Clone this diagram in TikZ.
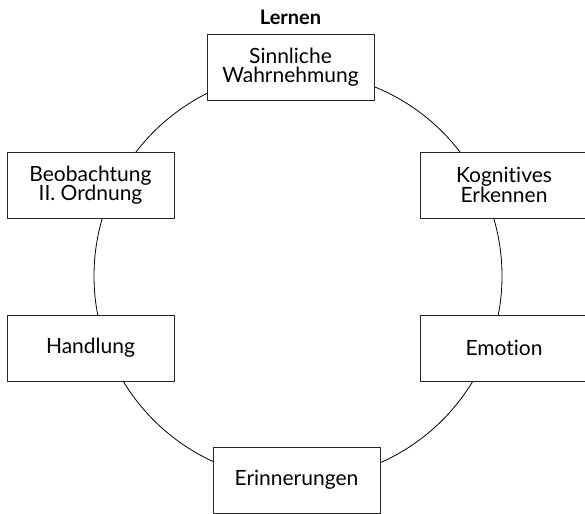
\documentclass[tikz,border=0pt]{standalone}
\usepackage{fontspec}
\setmainfont{Lato}[Ligatures=NoCommon]
\usetikzlibrary{positioning}

\tikzset{
  stufe/.style={draw=black!85, fill=white, line width=0.9pt, align=center,
    minimum width=167pt, minimum height=66pt, inner sep=0pt,
    font=\fontsize{21}{19.5}\selectfont},
  titel/.style={font=\fontsize{20}{20}\selectfont\bfseries}
}

\begin{document}
\begin{tikzpicture}[x=1pt,y=-1pt]
% Rahmen
\useasboundingbox (0,0) rectangle (585,513);

% Kreis (Mittelpunkt und Radius)
\def\mx{298}
\def\my{276}
\def\rad{204}
\draw[line width=0.8pt] (\mx,\my) circle[radius=\rad];

% Stufen des Lernens
\node[stufe] (wahr) at (290.5,67) {Sinnliche\\Wahrnehmung};
\node[titel, above=5pt of wahr] (lernen) {Lernen};
\node[stufe] (kogn) at (504,185) {Kognitives\\Erkennen};
\node[stufe] (emo) at (504,348) {Emotion};
\node[stufe] (erin) at (296.5,480) {Erinnerungen};
\node[stufe] (hand) at (90.5,348) {Handlung};
\node[stufe] (beob) at (90.5,185) {Beobachtung\\II. Ordnung};
\end{tikzpicture}
\end{document}
